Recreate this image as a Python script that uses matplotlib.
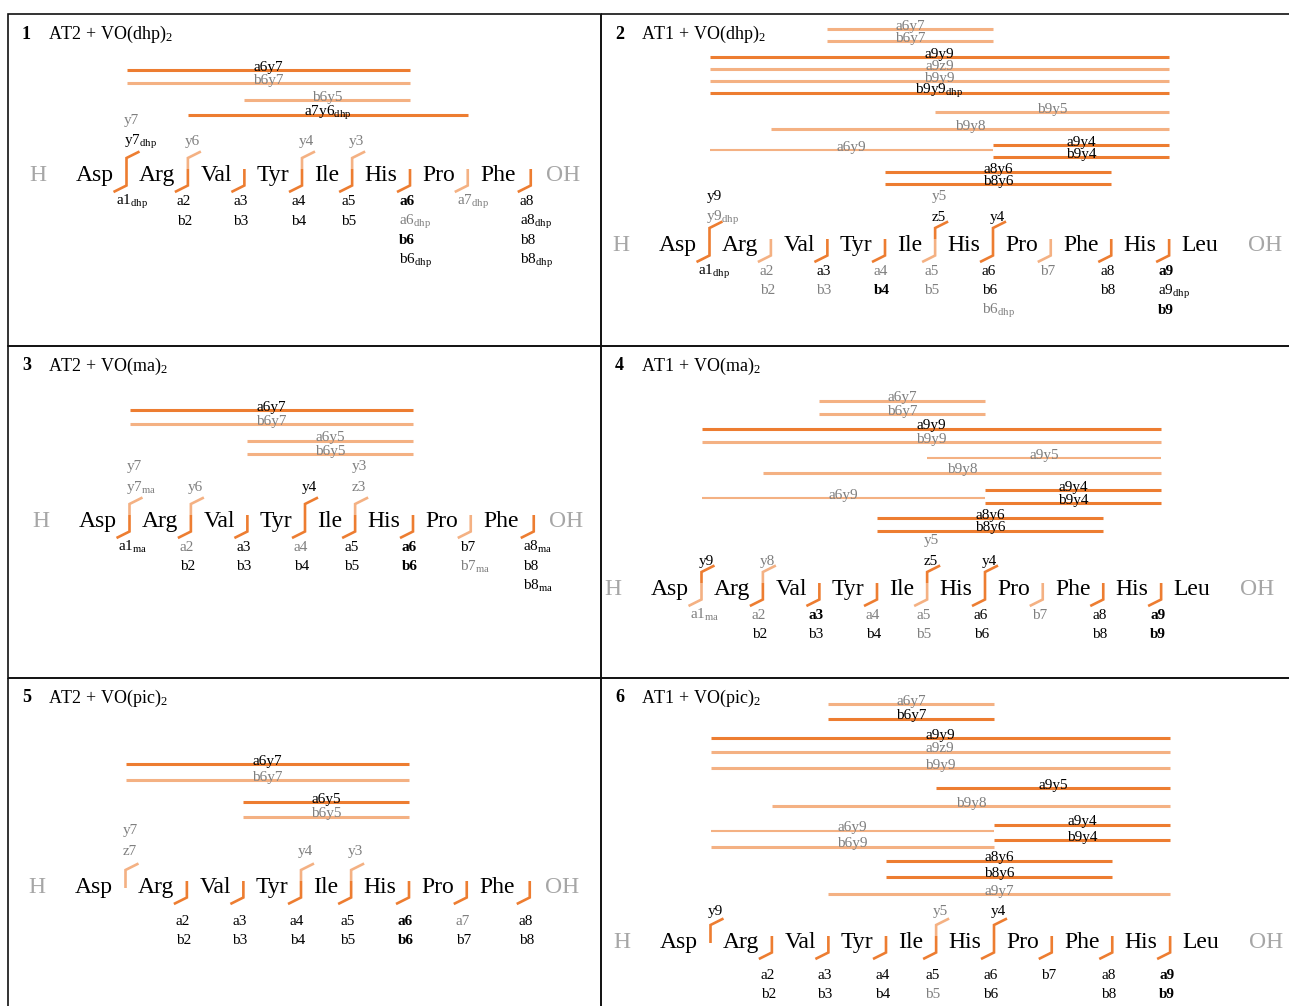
import re
import matplotlib
matplotlib.use("Agg")
import matplotlib.pyplot as plt
from matplotlib.patches import Rectangle

# fonts: Times-like serif, math subscripts in the same face
plt.rcParams["font.family"] = ["Liberation Serif", "DejaVu Serif"]
plt.rcParams["mathtext.fontset"] = "custom"
plt.rcParams["mathtext.rm"] = "Liberation Serif"
plt.rcParams["mathtext.bf"] = "Liberation Serif:bold"
plt.rcParams["mathtext.default"] = "regular"

W, H = 1289, 1006
DARK = "#ED7D31"
LIGHT = "#F4B183"
GREY = "#7F7F7F"
END_GREY = "#A6A6A6"

# ---- data ----
AT2 = ["Asp", "Arg", "Val", "Tyr", "Ile", "His", "Pro", "Phe"]
AT1 = ["Asp", "Arg", "Val", "Tyr", "Ile", "His", "Pro", "Phe", "His", "Leu"]

TITLES = ["AT2 + VO(dhp)$_2$", "AT1 + VO(dhp)$_2$", "AT2 + VO(ma)$_2$",
          "AT1 + VO(ma)$_2$", "AT2 + VO(pic)$_2$", "AT1 + VO(pic)$_2$"]

# internal fragments: (name, subscript, tone)  d = strong, l = weak, t = weak/thin
P1_INTERNAL = [("a6y7", "", "d"), ("b6y7", "", "l"), ("b6y5", "", "l"), ("a7y6", "dhp", "d")]
P2_INTERNAL = [("a6y7", "", "l"), ("b6y7", "", "l"), ("a9y9", "", "d"), ("a9z9", "", "l"),
               ("b9y9", "", "l"), ("b9y9", "dhp", "d"), ("b9y5", "", "l"), ("b9y8", "", "l"),
               ("a6y9", "", "t"), ("a9y4", "", "d"), ("b9y4", "", "d"), ("a8y6", "", "d"),
               ("b8y6", "", "d")]
P3_INTERNAL = [("a6y7", "", "d"), ("b6y7", "", "l"), ("a6y5", "", "l"), ("b6y5", "", "l")]
P4_INTERNAL = [("a6y7", "", "l"), ("b6y7", "", "l"), ("a9y9", "", "d"), ("b9y9", "", "l"),
               ("a9y5", "", "t"), ("b9y8", "", "l"), ("a6y9", "", "t"), ("a9y4", "", "d"),
               ("b9y4", "", "d"), ("a8y6", "", "d"), ("b8y6", "", "d")]
P5_INTERNAL = [("a6y7", "", "d"), ("b6y7", "", "l"), ("a6y5", "", "d"), ("b6y5", "", "l")]
P6_INTERNAL = [("a6y7", "", "l"), ("b6y7", "", "d"), ("a9y9", "", "d"), ("a9z9", "", "l"),
               ("b9y9", "", "l"), ("a9y5", "", "d"), ("b9y8", "", "l"), ("a6y9", "", "t"),
               ("a9y4", "", "d"), ("b6y9", "", "l"), ("b9y4", "", "d"), ("a8y6", "", "d"),
               ("b8y6", "", "d"), ("a9y7", "", "l")]

# backbone cleavages k = 1..n: (C-term tone, C-term ions, N-term tone, N-term ions)
# "!" bold, "~" grey, "_" subscript
P1_CUTS = [("d", ["~y7", "y7_dhp"], "d", ["a1_dhp"]),
           ("l", ["~y6"], "d", ["a2", "b2"]),
           ("", [], "d", ["a3", "b3"]),
           ("l", ["~y4"], "d", ["a4", "b4"]),
           ("l", ["~y3"], "d", ["a5", "b5"]),
           ("", [], "d", ["!a6", "~a6_dhp", "!b6", "b6_dhp"]),
           ("", [], "l", ["~a7_dhp"]),
           ("", [], "d", ["a8", "a8_dhp", "b8", "b8_dhp"])]
P2_CUTS = [("d", ["y9", "~y9_dhp"], "d", ["a1_dhp"]),
           ("", [], "l", ["~a2", "~b2"]),
           ("", [], "d", ["a3", "~b3"]),
           ("", [], "d", ["~a4", "!b4"]),
           ("d", ["~y5", "z5"], "l", ["~a5", "~b5"]),
           ("d", ["y4"], "d", ["a6", "b6", "~b6_dhp"]),
           ("", [], "l", ["~b7"]),
           ("", [], "d", ["a8", "b8"]),
           ("", [], "d", ["!a9", "a9_dhp", "!b9"])]
P3_CUTS = [("l", ["~y7", "~y7_ma"], "d", ["a1_ma"]),
           ("l", ["~y6"], "d", ["~a2", "b2"]),
           ("", [], "d", ["a3", "b3"]),
           ("d", ["y4"], "d", ["~a4", "b4"]),
           ("l", ["~y3", "~z3"], "d", ["a5", "b5"]),
           ("", [], "d", ["!a6", "!b6"]),
           ("", [], "l", ["b7", "~b7_ma"]),
           ("", [], "d", ["a8_ma", "b8", "b8_ma"])]
P4_CUTS = [("d", ["y9"], "l", ["~a1_ma"]),
           ("l", ["~y8"], "d", ["~a2", "b2"]),
           ("", [], "d", ["!a3", "b3"]),
           ("", [], "d", ["~a4", "b4"]),
           ("d", ["~y5", "z5"], "l", ["~a5", "~b5"]),
           ("d", ["y4"], "d", ["a6", "b6"]),
           ("", [], "l", ["~b7"]),
           ("", [], "d", ["a8", "b8"]),
           ("", [], "d", ["!a9", "!b9"])]
P5_CUTS = [("l", ["~y7", "~z7"], "", []),
           ("", [], "d", ["a2", "b2"]),
           ("", [], "d", ["a3", "b3"]),
           ("l", ["~y4"], "d", ["a4", "b4"]),
           ("l", ["~y3"], "d", ["a5", "b5"]),
           ("", [], "d", ["!a6", "!b6"]),
           ("", [], "d", ["~a7", "b7"]),
           ("", [], "d", ["a8", "b8"])]
P6_CUTS = [("d", ["y9"], "", []),
           ("", [], "d", ["a2", "b2"]),
           ("", [], "d", ["a3", "b3"]),
           ("", [], "d", ["a4", "b4"]),
           ("l", ["~y5"], "d", ["a5", "~b5"]),
           ("d", ["y4"], "d", ["a6", "b6"]),
           ("", [], "d", ["b7"]),
           ("", [], "d", ["a8", "b8"]),
           ("", [], "d", ["!a9", "!b9"])]

# ---- layout (pixels) ----
LAYOUT = [
    dict(seq=AT2, internal=P1_INTERNAL, cuts=P1_CUTS, left=8, top=14, h_x=29, base=181,
         top_gap=36, bot_gap=24, rows=[70, 83, 100, 115]),
    dict(seq=AT1, internal=P2_INTERNAL, cuts=P2_CUTS, left=601, top=14, h_x=612, base=251,
         top_gap=30, bot_gap=24, rows=[29, 41, 57, 69, 81, 93, 112, 129, 150, 145, 157, 172, 184]),
    dict(seq=AT2, internal=P3_INTERNAL, cuts=P3_CUTS, left=8, top=346, h_x=32, base=527,
         top_gap=36, bot_gap=24, rows=[410, 424, 441, 454]),
    dict(seq=AT1, internal=P4_INTERNAL, cuts=P4_CUTS, left=601, top=346, h_x=604, base=595,
         top_gap=30, bot_gap=24, rows=[401, 414, 429, 442, 458, 473, 498, 490, 503, 518, 531]),
    dict(seq=AT2, internal=P5_INTERNAL, cuts=P5_CUTS, left=8, top=678, h_x=28, base=893,
         top_gap=38, bot_gap=32, rows=[764, 780, 802, 817]),
    dict(seq=AT1, internal=P6_INTERNAL, cuts=P6_CUTS, left=601, top=678, h_x=613, base=948,
         top_gap=33, bot_gap=31, rows=[704, 719, 738, 752, 768, 788, 806, 831, 825, 847, 840,
                                       861, 877, 894]),
]
PAD = 12.5      # space each side of a cleavage mark
END_PAD = 2.5   # extra space next to H and OH
RES_FS = 17
LAB_FS = 11
TONE = {"d": DARK, "l": LIGHT, "t": LIGHT}

fig = plt.figure(figsize=(W / 100, H / 100), dpi=100)
ax = fig.add_axes([0, 0, 1, 1])
ax.set_xlim(0, W)
ax.set_ylim(H, 0)
ax.axis("off")
renderer = fig.canvas.get_renderer()


def ion_text(x, y, code, ha="left"):
    style = dict(color="black", fontweight="normal")
    if code.startswith("!"):
        style["fontweight"] = "bold"
        code = code[1:]
    if code.startswith("~"):
        style["color"] = GREY
        code = code[1:]
    main, _, sub = code.partition("_")
    s = main + (f"$_{{{sub}}}$" if sub else "")
    ax.text(x, y, s, fontsize=LAB_FS, ha=ha, va="baseline", **style)


for i, cfg in enumerate(LAYOUT):
    seq = cfg["seq"]
    n = len(seq)
    yb = cfg["base"]

    # panel frame
    right = W + 5 if cfg["left"] > 300 else 601
    bottom = H + 5 if cfg["top"] > 600 else cfg["top"] + 332
    ax.add_patch(Rectangle((cfg["left"], cfg["top"]), right - cfg["left"], bottom - cfg["top"],
                           fill=False, ec="#111111", lw=1.2, zorder=5))

    # title
    ax.text(cfg["left"] + 14, cfg["top"] + 20, str(i + 1), fontsize=13, fontweight="bold",
            va="center")
    ax.text(cfg["left"] + 40, cfg["top"] + 20, TITLES[i], fontsize=13, va="center")

    # residue chain, measuring each word to place the cleavage marks
    x = cfg["h_x"]
    cut_x = []
    for j, name in enumerate(["H"] + seq + ["OH"]):
        col = END_GREY if name in ("H", "OH") else "black"
        t = ax.text(x, yb, name, fontsize=RES_FS, color=col, ha="left", va="baseline")
        w = t.get_window_extent(renderer).width
        if j == 0:
            x = x + w + 2 * (PAD + END_PAD)
            continue
        extra = END_PAD if j == n else 0
        x = x + w + PAD + extra
        cut_x.append(x)
        x = x + PAD + extra

    # backbone cleavage marks and ion labels
    for k, (ctone, cions, ntone, nions) in enumerate(cfg["cuts"]):
        cx = cut_x[k]
        if ntone:
            ax.plot([cx - 13, cx, cx], [yb + 11, yb + 4.5, yb - 12], color=TONE[ntone],
                    lw=1.9, solid_joinstyle="miter", solid_capstyle="butt", zorder=3)
        if ctone:
            low = yb - 12 if ntone else yb - 5
            ax.plot([cx, cx, cx + 13], [low, yb - 23, yb - 29.5], color=TONE[ctone],
                    lw=1.9, solid_joinstyle="miter", solid_capstyle="butt", zorder=3)
        for r, code in enumerate(reversed(cions)):
            ion_text(cx - 3, yb - cfg["top_gap"] - 21 * r, code)
        for r, code in enumerate(nions):
            ion_text(cx - 11, yb + cfg["bot_gap"] + 19.5 * r, code)

    # internal fragments as bars spanning the retained residues
    for (name, sub, tone), ry in zip(cfg["internal"], cfg["rows"]):
        m = re.match(r"([ab])(\d+)([yz])(\d+)", name)
        end = int(m.group(2))
        start = n - int(m.group(4))
        x0, x1 = cut_x[start - 1], cut_x[end - 1]
        ax.plot([x0, x1], [ry, ry], color=TONE[tone], lw=1.5 if tone == "t" else 2.2,
                solid_capstyle="butt", zorder=2)
        code = ("" if tone == "d" else "~") + name + ("_" + sub if sub else "")
        ion_text((x0 + x1) / 2, ry + 0.5, code, ha="center")

fig.savefig("out.png", dpi=100)
